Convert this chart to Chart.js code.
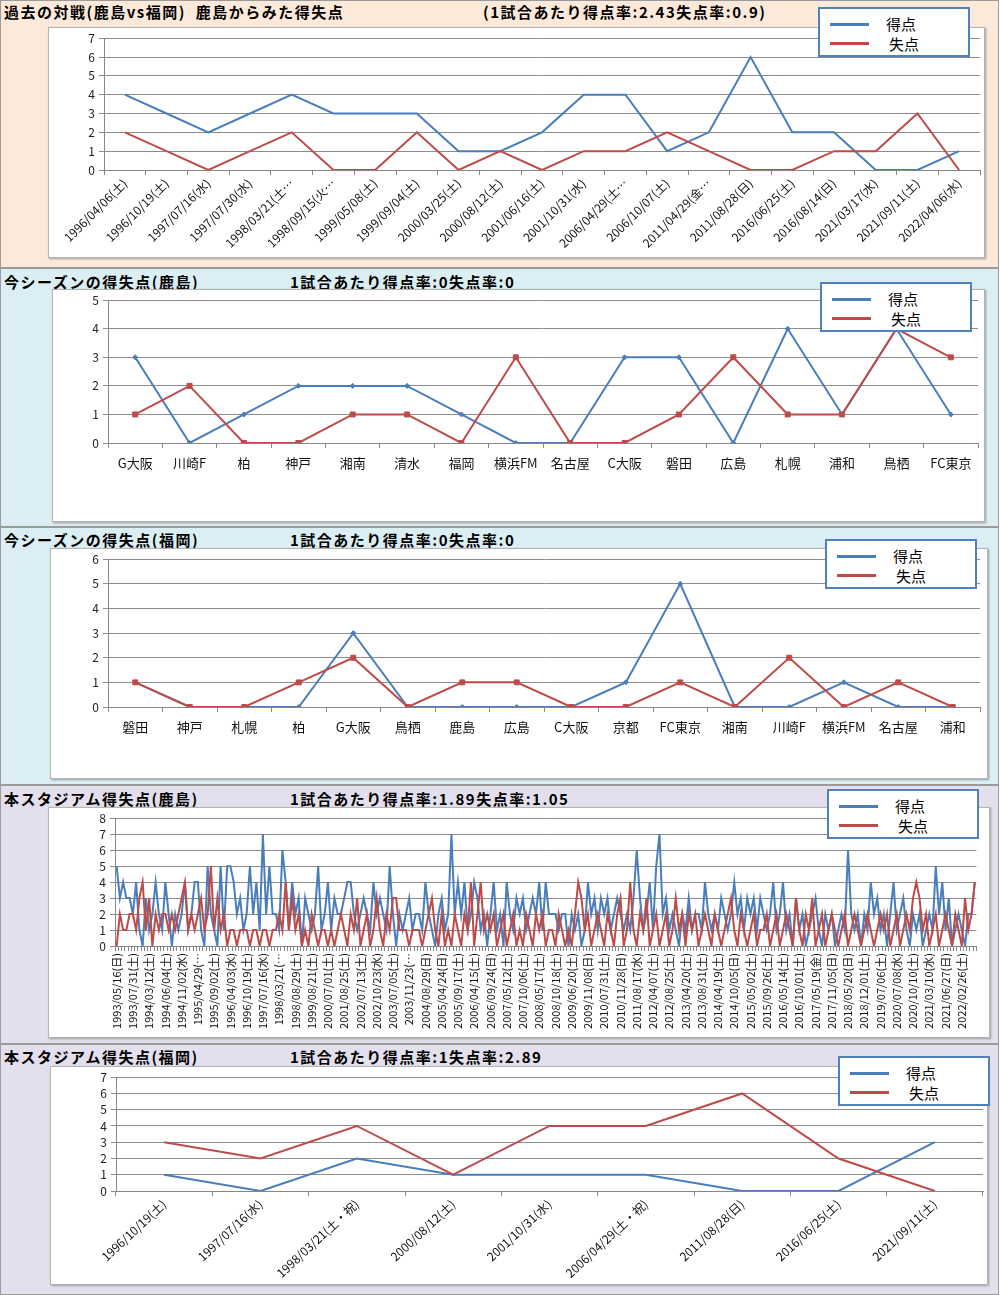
<!DOCTYPE html>
<html>
<head>
<meta charset="utf-8">
<script src="https://cdn.jsdelivr.net/npm/chart.js@4/dist/chart.umd.min.js"></script>
<style>
  body { margin: 0; width: 1000px; height: 1295px; position: relative; overflow: hidden; background: #fff;
         font-family: "Noto Sans CJK JP", sans-serif; }
  .panel { position: absolute; left: 0; width: 999px; border: 1px solid #9a9a9a; box-sizing: border-box; }
  .title { position: absolute; font-weight: bold; font-size: 15px; line-height: 17px; letter-spacing: 1.5px; color: #000; white-space: nowrap; }
  .box { position: absolute; background: #fff; border: 1px solid #b4b4b4; box-shadow: 1px 1px 2px #9a9a9a; box-sizing: border-box; }
  .box canvas { position: absolute; left: -1px; top: -1px; }
  .legend { position: absolute; background: #fff; border: 2px solid #4f81bd; box-sizing: border-box; width: 152px; height: 50px; }
  .legend .ln { position: absolute; left: 10px; width: 39px; height: 3px; }
  .legend .tx { position: absolute; font-size: 15px; line-height: 17px; color: #000; }
</style>
</head>
<body>

<div class="panel" style="top:0;height:268px;background:#fde9d9"></div>
<div class="panel" style="top:268px;height:259px;background:#daeef3"></div>
<div class="panel" style="top:527px;height:258px;background:#daeef3"></div>
<div class="panel" style="top:785px;height:259px;background:#e4dfec"></div>
<div class="panel" style="top:1044px;height:251px;background:#e4dfec"></div>

<div class="title" style="left:4px;top:3px">過去の対戦(鹿島vs福岡)&nbsp; 鹿島からみた得失点</div>
<div class="title" style="left:483px;top:3px">(1試合あたり得点率:2.43失点率:0.9)</div>
<div class="title" style="left:4px;top:273px">今シーズンの得失点(鹿島)</div>
<div class="title" style="left:290px;top:273px">1試合あたり得点率:0失点率:0</div>
<div class="title" style="left:4px;top:531px">今シーズンの得失点(福岡)</div>
<div class="title" style="left:290px;top:531px">1試合あたり得点率:0失点率:0</div>
<div class="title" style="left:4px;top:790px">本スタジアム得失点(鹿島)</div>
<div class="title" style="left:290px;top:790px">1試合あたり得点率:1.89失点率:1.05</div>
<div class="title" style="left:4px;top:1048px">本スタジアム得失点(福岡)</div>
<div class="title" style="left:290px;top:1048px">1試合あたり得点率:1失点率:2.89</div>

<div class="box" style="left:48px;top:27px;width:937px;height:231px"><canvas id="c1" width="937" height="231"></canvas></div>
<div class="box" style="left:52px;top:289px;width:933px;height:233px"><canvas id="c2" width="933" height="233"></canvas></div>
<div class="box" style="left:50px;top:548px;width:938px;height:231px"><canvas id="c3" width="938" height="231"></canvas></div>
<div class="box" style="left:48px;top:807px;width:942px;height:231px"><canvas id="c4" width="942" height="231"></canvas></div>
<div class="box" style="left:50px;top:1066px;width:938px;height:219px"><canvas id="c5" width="938" height="219"></canvas></div>

<div id="legends"></div>

<script>
// colors of the two series
const BLUE = "#4a7ebb";
const RED = "#be4b48";
const FONT = '"Noto Sans CJK JP", sans-serif';

// 過去の対戦(鹿島vs福岡)
const dates1 = ["1996/04/06(土)", "1996/10/19(土)", "1997/07/16(水)", "1997/07/30(水)", "1998/03/21(土…",
  "1998/09/15(火…", "1999/05/08(土)", "1999/09/04(土)", "2000/03/25(土)", "2000/08/12(土)",
  "2001/06/16(土)", "2001/10/31(水)", "2006/04/29(土…", "2006/10/07(土)", "2011/04/29(金…",
  "2011/08/28(日)", "2016/06/25(土)", "2016/08/14(日)", "2021/03/17(水)", "2021/09/11(土)", "2022/04/06(水)"];
const goals1 = [4, 3, 2, 3, 4, 3, 3, 3, 1, 1, 2, 4, 4, 1, 2, 6, 2, 2, 0, 0, 1];
const lost1 = [2, 1, 0, 1, 2, 0, 0, 2, 0, 1, 0, 1, 1, 2, 1, 0, 0, 1, 1, 3, 0];

// 今シーズンの得失点(鹿島)
const teams2 = ["G大阪", "川崎F", "柏", "神戸", "湘南", "清水", "福岡", "横浜FM", "名古屋", "C大阪", "磐田", "広島", "札幌", "浦和", "鳥栖", "FC東京"];
const goals2 = [3, 0, 1, 2, 2, 2, 1, 0, 0, 3, 3, 0, 4, 1, 4, 1];
const lost2 = [1, 2, 0, 0, 1, 1, 0, 3, 0, 0, 1, 3, 1, 1, 4, 3];

// 今シーズンの得失点(福岡)
const teams3 = ["磐田", "神戸", "札幌", "柏", "G大阪", "鳥栖", "鹿島", "広島", "C大阪", "京都", "FC東京", "湘南", "川崎F", "横浜FM", "名古屋", "浦和"];
const goals3 = [1, 0, 0, 0, 3, 0, 0, 0, 0, 1, 5, 0, 0, 1, 0, 0];
const lost3 = [1, 0, 0, 1, 2, 0, 1, 1, 0, 0, 1, 0, 2, 0, 1, 0];

// 本スタジアム得失点(鹿島) - only every 5th game date is shown on the axis
const tickDates4 = ["1993/05/16(日)", "1993/07/31(土)", "1994/03/12(土)", "1994/06/04(土)", "1994/11/02(水)",
  "1995/04/29(…", "1995/09/02(土)", "1996/04/03(水)", "1996/10/19(土)", "1997/07/16(水)", "1998/03/21(…",
  "1998/08/29(土)", "1999/08/21(土)", "2000/07/01(土)", "2001/08/25(土)", "2002/07/13(土)", "2002/10/23(水)",
  "2003/07/05(土)", "2003/11/23(…", "2004/08/29(日)", "2005/04/24(日)", "2005/09/17(土)", "2006/04/15(土)",
  "2006/09/24(日)", "2007/05/12(土)", "2007/10/06(土)", "2008/05/17(土)", "2008/10/18(土)", "2009/06/20(土)",
  "2009/11/08(日)", "2010/07/31(土)", "2010/11/28(日)", "2011/08/17(水)", "2012/04/07(土)", "2012/08/25(土)",
  "2013/04/20(土)", "2013/08/31(土)", "2014/04/19(土)", "2014/10/05(日)", "2015/05/02(土)", "2015/09/26(土)",
  "2016/05/14(土)", "2016/10/01(土)", "2017/05/19(金)", "2017/11/05(日)", "2018/05/20(日)", "2018/12/01(土)",
  "2019/07/06(土)", "2020/07/08(水)", "2020/10/10(土)", "2021/03/10(水)", "2021/06/27(日)", "2022/02/26(土)"];
const tickStep4 = 5;
const goals4 = [
  5,3,4,3,3, 2,4,1,0,3, 1,2,4,2,1, 4,2,0,2,1, 2,4,1,2,4, 4,1,0,5,2, 1,0,5,1,5, 5,4,2,3,1,
  2,5,2,4,1, 7,2,5,2,2, 1,6,4,1,4, 2,3,0,3,2, 1,2,5,1,2, 4,1,3,2,2, 3,4,4,2,1, 2,3,2,1,4,
  2,3,2,1,5, 2,0,2,1,2, 3,1,2,2,1, 4,2,1,0,2, 3,1,2,7,2, 4,2,4,1,2, 4,3,1,2,0, 2,4,1,2,0,
  4,2,1,3,2, 3,1,2,3,2, 4,1,4,2,2, 2,1,2,2,0, 2,1,2,0,1, 4,2,3,1,3, 2,3,1,2,3, 2,1,2,1,3,
  6,3,1,2,4, 1,5,7,2,3, 1,2,1,0,2, 1,3,1,2,2, 1,4,2,1,2, 1,3,2,1,2, 4,2,3,1,3, 2,3,1,3,2,
  1,2,4,1,2, 4,1,2,0,3, 1,2,0,1,2, 3,1,0,2,1, 2,0,1,2,1, 6,2,1,2,0, 2,1,4,2,3, 1,2,0,2,4,
  1,2,3,1,0, 2,1,2,0,1, 2,1,5,2,4, 1,3,0,1,2, 1,0,2,2,4];
const lost4 = [
  0,2,1,1,2, 2,1,3,4,1, 3,0,2,1,2, 2,1,2,1,2, 3,4,1,2,1, 2,3,1,2,5, 1,3,1,2,0, 1,1,0,1,1,
  1,0,1,1,0, 1,1,0,1,1, 2,1,4,1,3, 1,2,0,1,0, 2,1,0,1,1, 0,1,0,1,2, 1,0,2,1,3, 0,1,2,0,1,
  3,1,0,2,1, 3,3,1,1,1, 0,1,1,1,0, 1,2,3,1,0, 2,0,1,0,2, 1,0,2,1,4, 0,2,4,1,2, 1,2,0,1,2,
  0,1,2,0,1, 0,2,1,0,2, 1,2,0,1,1, 0,2,1,0,1, 0,2,4,3,1, 2,0,1,2,1, 0,2,1,0,2, 3,0,1,4,1,
  0,2,1,3,0, 1,2,0,1,2, 0,1,3,1,2, 0,2,1,2,0, 1,2,1,0,2, 1,0,1,2,3, 1,0,2,1,0, 1,2,0,1,1,
  2,0,1,2,0, 1,2,1,0,3, 1,0,2,1,3, 0,1,2,0,1, 2,1,0,1,2, 0,1,2,1,0, 1,2,1,0,1, 2,1,2,0,1,
  2,0,1,2,1, 3,4,3,1,2, 0,1,2,0,1, 2,1,0,2,1, 0,3,1,2,4];

// 本スタジアム得失点(福岡)
const dates5 = ["1996/10/19(土)", "1997/07/16(水)", "1998/03/21(土・祝)", "2000/08/12(土)", "2001/10/31(水)",
  "2006/04/29(土・祝)", "2011/08/28(日)", "2016/06/25(土)", "2021/09/11(土)"];
const goals5 = [1, 0, 2, 1, 1, 1, 0, 0, 3];
const lost5 = [3, 2, 4, 1, 4, 4, 6, 2, 0];

// builds one excel-like line chart
function lineChart(id, labels, goals, lost, cfg) {
  const ctx = document.getElementById(id).getContext("2d");
  return new Chart(ctx, {
    type: "line",
    data: {
      labels: labels,
      datasets: [
        {
          label: "得点", data: goals, order: 1,
          borderColor: BLUE, backgroundColor: BLUE, borderWidth: 2,
          pointStyle: "rectRot", pointRadius: cfg.markers ? 2.5 : 0, pointBorderWidth: 1,
        },
        {
          label: "失点", data: lost, order: 0,
          borderColor: RED, backgroundColor: RED, borderWidth: 2,
          pointStyle: "rect", pointRadius: cfg.markers ? 3.5 : 0, pointBorderWidth: 1,
        },
      ],
    },
    options: {
      responsive: false,
      animation: false,
      layout: { autoPadding: false, padding: { top: cfg.top, right: cfg.right, left: 0, bottom: 0 } },
      plugins: { legend: { display: false }, tooltip: { enabled: false } },
      scales: {
        x: {
          offset: true,
          grid: { offset: true, drawOnChartArea: false, tickLength: 5, color: "#868686" },
          border: { color: "#868686" },
          ticks: {
            autoSkip: false, minRotation: cfg.rot, maxRotation: cfg.rot, padding: cfg.xpad,
            color: "#111", font: { family: FONT, size: cfg.xfs },
          },
          afterFit: (s) => { s.height = cfg.xh; },
        },
        y: {
          min: 0, max: cfg.ymax,
          grid: { color: "#8c8c8c", tickLength: 5 },
          border: { color: "#868686" },
          ticks: { stepSize: 1, autoSkip: false, padding: 4, color: "#222", font: { family: FONT, size: 12 } },
          afterFit: (s) => { s.width = cfg.yw; },
        },
      },
    },
  });
}

lineChart("c1", dates1, goals1, lost1, { top: 11, right: 5, yw: 56, xh: 88, ymax: 7, rot: 45, xfs: 12, xpad: 1 });
lineChart("c2", teams2, goals2, lost2, { top: 10, right: 7, yw: 56, xh: 79, ymax: 5, rot: 0, xfs: 13, xpad: 7, markers: true });
lineChart("c3", teams3, goals3, lost3, { top: 9, right: 8, yw: 58, xh: 72, ymax: 6, rot: 0, xfs: 13, xpad: 7, markers: true });

// axis labels for the long series: a date on every 5th game, empty otherwise
const labels4 = goals4.map((v, i) => (i % tickStep4 === 0 && tickDates4[i / tickStep4]) ? tickDates4[i / tickStep4] : "");
lineChart("c4", labels4, goals4, lost4, { top: 9, right: 8, yw: 67, xh: 92, ymax: 8, rot: 90, xfs: 11, xpad: 2 });
lineChart("c5", dates5, goals5, lost5, { top: 10, right: 5, yw: 66, xh: 94, ymax: 7, rot: 43, xfs: 12, xpad: 1 });

// legend boxes like the excel ones
const legendPos = [[818, 7], [820, 282], [825, 539], [827, 789], [838, 1056]];
const holder = document.getElementById("legends");
legendPos.forEach((p) => {
  const d = document.createElement("div");
  d.className = "legend";
  d.style.left = p[0] + "px";
  d.style.top = p[1] + "px";
  d.innerHTML =
    '<div class="ln" style="top:14px;background:' + BLUE + '"></div>' +
    '<div class="tx" style="left:66px;top:6px">得点</div>' +
    '<div class="ln" style="top:33px;background:' + RED + '"></div>' +
    '<div class="tx" style="left:69px;top:26px">失点</div>';
  holder.appendChild(d);
});
</script>
</body>
</html>
